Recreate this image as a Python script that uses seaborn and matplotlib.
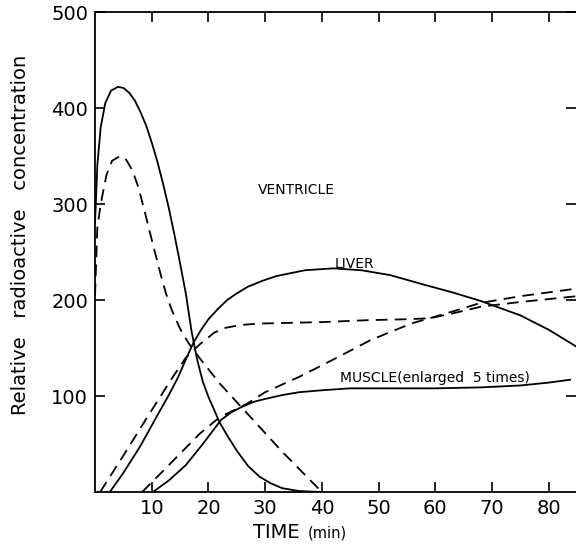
import matplotlib
matplotlib.use("Agg")
import matplotlib.pyplot as plt
import seaborn as sns

# --- curve data (time in min, relative concentration) ---
vent_t = [0, 0.4, 1, 1.8, 2.8, 4, 5, 6, 7, 8, 9, 10, 11, 12, 13, 14, 15, 16,
          17, 18, 19, 20, 22, 23.5, 25, 27, 29, 31, 33, 36, 40]
vent_solid = [280, 340, 380, 405, 418, 422, 421, 416, 408, 396, 382, 364, 344,
              321, 296, 268, 238, 207, 168, 138, 115, 99, 72, 57, 43, 27, 16,
              9, 4, 1, 0]

vent_dash_t = [0, 0.4, 1, 2, 3, 4.4, 5.5, 6.6, 7.6, 8.6, 9.6, 10.6, 11.6, 12.5,
               13.5, 15, 16.5, 18.5, 22, 26.8, 33, 40]
vent_dash = [205, 275, 300, 330, 345, 350, 346, 335, 318, 296, 272, 249, 226,
             207, 190, 170, 155, 139, 113, 82, 42, 0]

liver_t = [2.6, 5, 8, 11, 13, 14.6, 16, 17.3, 18.7, 20, 21.7, 23.3, 25, 27, 29.5,
           32, 37, 42, 47, 52, 58, 63, 68, 75, 80, 85]
liver_solid = [0, 20, 48, 80, 101, 119, 138, 155, 169, 180, 191, 200, 207, 214,
               220, 225, 231, 233, 231, 226, 216, 208, 199, 184, 169, 151]

liver_dash_t = [0.9, 5, 9, 13.4, 16, 18.5, 21, 23, 25.6, 29, 32.6, 40, 48, 55,
                59, 63, 68, 75, 80, 85]
liver_dash = [0, 38, 76, 117, 140, 154, 166, 171, 174, 175.5, 176, 177, 179,
              180, 181, 186, 193, 198, 201, 204]

muscle_t = [10.2, 13, 16, 19, 22.2, 24, 26, 28, 30, 33, 36, 40, 45, 54, 60, 68,
            75, 80, 83.8]
muscle_solid = [0, 12, 28, 50, 75, 83, 89, 94, 97, 101, 104, 106, 108, 108, 108,
                109, 111, 114, 117]

muscle_dash_t = [8.3, 12, 15, 18.5, 22, 26.8, 30, 36, 42, 48.5, 52.6, 56, 59,
                 63, 68, 75, 80, 85]
muscle_dash = [0, 22, 40, 61, 78, 92, 104, 120, 138, 158, 168, 176, 181, 188,
               197, 204, 208, 212]

x_ticks = [10, 20, 30, 40, 50, 60, 70, 80]
y_ticks = [100, 200, 300, 400, 500]

sns.set_style("ticks")
plt.rcParams["font.family"] = ["DejaVu Sans"]
plt.rcParams.update({"text.color": "black", "axes.labelcolor": "black",
                     "xtick.color": "black", "ytick.color": "black",
                     "axes.edgecolor": "black"})

fig = plt.figure(figsize=(5.76, 5.47), dpi=100)
ax = fig.add_axes([0.165, 0.1005, 0.835, 0.8775])

dash = (6.5, 4)
lw = 1.3
sns.lineplot(x=vent_t, y=vent_solid, ax=ax, color="black", lw=lw, sort=False)
sns.lineplot(x=vent_dash_t, y=vent_dash, ax=ax, color="black", lw=lw,
             sort=False).lines[-1].set_dashes(dash)
sns.lineplot(x=liver_t, y=liver_solid, ax=ax, color="black", lw=lw, sort=False)
sns.lineplot(x=liver_dash_t, y=liver_dash, ax=ax, color="black", lw=lw,
             sort=False).lines[-1].set_dashes(dash)
sns.lineplot(x=muscle_t, y=muscle_solid, ax=ax, color="black", lw=lw, sort=False)
sns.lineplot(x=muscle_dash_t, y=muscle_dash, ax=ax, color="black", lw=lw,
             sort=False).lines[-1].set_dashes(dash)

# --- curve labels ---
ax.text(28.7, 315, "VENTRICLE", fontsize=10, va="center")
ax.text(42.3, 238, "LIVER", fontsize=10, va="center")
ax.text(43.2, 119, "MUSCLE(enlarged  5 times)", fontsize=10, va="center")

ax.set_xlim(0, 84.8)
ax.set_ylim(0, 500)
ax.set_xticks(x_ticks)
ax.set_yticks(y_ticks)
ax.tick_params(direction="in", length=7, width=1.2, labelsize=14,
               top=True, right=True, pad=5)
for s in ["left", "bottom", "top"]:
    ax.spines[s].set_linewidth(1.3)
ax.spines["right"].set_visible(False)

ax.set_ylabel("Relative   radioactive   concentration", fontsize=14)
ax.yaxis.set_label_coords(-0.135, 0.535)
ax.set_xlabel("")
fig.text(0.52, 0.0165, "TIME", fontsize=14, ha="right", va="baseline")
fig.text(0.535, 0.0165, "(min)", fontsize=10.5, ha="left", va="baseline")

fig.savefig("out.png", dpi=100)
